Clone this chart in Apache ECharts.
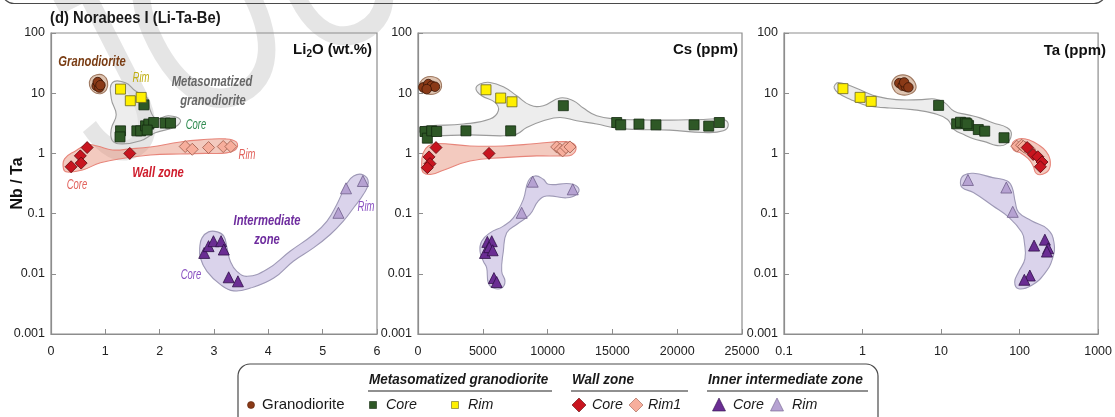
<!DOCTYPE html>
<html>
<head>
<meta charset="utf-8">
<script src="https://cdn.jsdelivr.net/npm/echarts@6/dist/echarts.min.js"></script>
<style>
  html, body { margin: 0; padding: 0; background: #fff; }
  #chart { width: 1115px; height: 417px; }
</style>
</head>
<body>
<div id="chart"></div>
<script>
// ---------- Nb/Ta axis (shared by the three panels) ----------
const nbTaTicks = [0.001, 0.01, 0.1, 1, 10, 100];
const nbTaTickLabels = ['0.001', '0.01', '0.1', '1', '10', '100'];
const taTicks = [0.1, 1, 10, 100, 1000];
const taTickLabels = ['0.1', '1', '10', '100', '1000'];

// ---------- Panel 1: Li2O (wt.%) vs Nb/Ta ----------
const liGranodiorite = [[0.84, 13.2], [0.87, 14.8], [0.89, 12.4], [0.86, 15.3], [0.91, 13.6]];
const liMetaCore = [[1.71, 6.4], [1.28, 2.37], [1.27, 1.88], [1.58, 2.37], [1.65, 2.37], [1.74, 2.87],
  [1.80, 3.07], [1.89, 3.26], [2.10, 3.19], [2.20, 3.19], [1.77, 2.44]];
const liMetaRim = [[1.28, 11.7], [1.46, 7.5], [1.66, 8.5]];
const liWallCore = [[0.37, 0.60], [0.54, 0.91], [0.555, 0.69], [0.665, 1.25], [1.45, 1.0]];
const liWallRim1 = [[2.47, 1.30], [2.60, 1.17], [2.90, 1.25], [3.17, 1.30], [3.31, 1.30]];
const liInterCore = [[2.82, 0.0222], [2.90, 0.0288], [2.99, 0.0348], [3.13, 0.0348], [3.18, 0.0253],
  [3.27, 0.00875], [3.44, 0.0075]];
const liInterRim = [[5.29, 0.103], [5.43, 0.263], [5.74, 0.348]];

// envelopes (outlines in data space)
const liEnvGranodiorite = [[0.73, 17.5], [0.84, 20.3], [0.97, 19.6], [1.04, 15.6], [1.02, 11.4], [0.91, 9.8], [0.78, 10.6], [0.71, 13.3]];
const liEnvMeta = [[1.13, 14.96], [1.37, 14.96], [1.55, 11.0], [1.77, 8.4], [1.83, 5.1], [1.94, 3.76], [2.16, 4.22],
  [2.38, 3.62], [2.29, 2.77], [1.92, 2.2], [1.65, 1.62], [1.31, 1.44], [1.13, 1.62], [1.11, 2.56], [1.20, 4.38], [1.11, 8.1]];
const liEnvWall = [[0.23, 0.552], [0.25, 0.81], [0.45, 1.10], [0.67, 1.39], [0.85, 1.33], [1.13, 1.14], [1.46, 1.19],
  [1.83, 1.28], [2.38, 1.55], [2.75, 1.68], [3.21, 1.74], [3.41, 1.55], [3.41, 1.19], [3.23, 1.02], [2.84, 1.0],
  [2.38, 0.98], [1.83, 0.94], [1.37, 0.84], [0.91, 0.70], [0.58, 0.53], [0.30, 0.49]];
const liEnvInter = [[2.78, 0.0395], [2.90, 0.0497], [3.06, 0.0497], [3.18, 0.0422], [3.24, 0.0269], [3.30, 0.0162],
  [3.42, 0.0110], [3.61, 0.00908], [3.97, 0.01175], [4.40, 0.0237], [4.83, 0.045], [5.08, 0.075], [5.26, 0.142],
  [5.44, 0.307], [5.57, 0.422], [5.75, 0.438], [5.84, 0.326], [5.75, 0.209], [5.57, 0.125], [5.38, 0.075],
  [5.14, 0.045], [4.83, 0.0269], [4.46, 0.0162], [4.10, 0.0085], [3.67, 0.0058], [3.36, 0.0052], [3.12, 0.0066],
  [2.87, 0.0110], [2.75, 0.0183], [2.74, 0.0287]];

// ---------- Panel 2: Cs (ppm) vs Nb/Ta ----------
const csGranodiorite = [[410, 12.5], [795, 14.2], [1055, 13.3], [1310, 12.8], [670, 11.7]];
const csMetaCore = [[11214, 6.2], [540, 2.31], [720, 1.79], [1055, 2.37], [1440, 2.31], [3700, 2.37], [7150, 2.37],
  [15330, 3.26], [15640, 2.98], [17050, 3.07], [18360, 2.98], [21300, 2.98], [22430, 2.84], [23250, 3.26]];
const csMetaRim = [[5247, 11.4], [6380, 8.3], [7253, 7.2]];
const csWallCore = [[1390, 1.25], [850, 0.875], [925, 0.676], [720, 0.58], [5480, 1.0]];
const csWallRim1 = [[10700, 1.28], [10960, 1.17], [11160, 1.10], [11420, 1.25], [11730, 1.28]];
const csInterCore = [[5170, 0.0222], [5350, 0.0339], [5690, 0.0348], [5500, 0.0277], [5760, 0.0246], [5860, 0.0085], [6070, 0.0073]];
const csInterRim = [[8850, 0.339], [11940, 0.253], [8000, 0.103]];

const csEnvGranodiorite = [[154, 14.96], [540, 18.1], [1157, 18.8], [1698, 16.2], [1775, 11.9], [1312, 9.8], [617, 9.8], [154, 11.4]];
const csEnvMeta = [[154, 2.69], [926, 2.87], [3497, 3.07], [5556, 3.72], [6200, 5.11], [5941, 7.03], [4913, 9.09],
  [4475, 11.7], [4784, 14.2], [5556, 15.1], [6585, 12.8], [7613, 9.09], [8642, 6.36], [9671, 6.19], [10957, 8.32],
  [11985, 7.5], [12757, 5.67], [13786, 4.22], [15329, 3.72], [16872, 3.62], [19444, 3.57], [22016, 3.66],
  [23560, 3.66], [23940, 2.98], [23560, 2.37], [22016, 2.22], [19444, 2.44], [16872, 2.49], [15329, 2.63],
  [13786, 3.07], [12243, 3.48], [10957, 3.95], [9671, 3.48], [8385, 2.69], [7613, 2.09], [6585, 1.96],
  [4012, 2.03], [1440, 1.96], [411, 1.96], [154, 2.22]];
const csEnvWall = [[411, 1.03], [797, 1.33], [1440, 1.46], [4012, 1.33], [6585, 1.33], [9156, 1.46], [11214, 1.57],
  [11985, 1.46], [12191, 1.17], [11857, 0.944], [11214, 0.908], [9156, 0.908], [6585, 0.851], [4012, 0.75],
  [1955, 0.525], [1055, 0.45], [411, 0.479], [283, 0.66]];
const csEnvInter = [[4913, 0.0348], [5556, 0.0479], [6585, 0.0619], [7356, 0.0851], [8128, 0.172], [8513, 0.348],
  [9028, 0.422], [9671, 0.372], [10057, 0.307], [11728, 0.314], [12371, 0.269], [12243, 0.209], [11471, 0.183],
  [9928, 0.196], [9285, 0.162], [8642, 0.097], [7613, 0.066], [6842, 0.0479], [6585, 0.0237], [6456, 0.011],
  [6713, 0.0075], [6456, 0.0058], [5813, 0.0058], [5427, 0.00703], [5299, 0.0125], [5041, 0.0162], [4784, 0.0237]];

// ---------- Panel 3: Ta (ppm) vs Nb/Ta ----------
const taGranodiorite = [[2.94, 14.7], [3.24, 13.3], [3.56, 12.9], [3.39, 15.1], [3.84, 12.5]];
const taMetaCore = [[9.31, 6.28], [15.8, 3.10], [17.7, 3.29], [20.4, 3.22], [22.4, 2.9], [21.4, 3.1], [29.8, 2.49], [36.0, 2.34], [63.4, 1.82]];
const taMetaRim = [[0.563, 11.9], [0.931, 8.53], [1.29, 7.32]];
const taWallCore = [[125, 1.25], [149, 0.96], [171, 0.88], [193, 0.72], [184, 0.60]];
const taWallRim1 = [[92, 1.32], [106, 1.37], [118, 1.25], [134, 1.17], [112, 1.30]];
const taInterCore = [[153, 0.0294], [210, 0.0369], [231, 0.0266], [223, 0.0234], [135, 0.00937], [115, 0.00795]];
const taInterRim = [[22.0, 0.362], [67.8, 0.271], [81.8, 0.107]];

const taEnvGranodiorite = [[2.39, 15.5], [2.83, 19.5], [3.76, 19.5], [4.59, 15.5], [4.72, 11.4], [3.76, 9.44], [2.83, 9.8], [2.46, 11.9]];
const taEnvMeta = [[0.446, 13.8], [0.489, 15.1], [0.648, 13.8], [1.04, 10.7], [1.52, 8.85], [2.68, 7.81], [5.70, 7.81],
  [8.32, 8.02], [11.0, 7.05], [14.7, 5.0], [21.4, 4.41], [31.3, 3.89], [45.5, 3.22], [69.7, 2.66], [78.7, 2.06],
  [66.4, 1.41], [50.0, 1.36], [37.7, 1.54], [25.8, 1.75], [19.5, 2.06], [14.7, 2.49], [12.1, 3.65], [8.32, 4.58],
  [4.30, 5.34], [2.21, 5.69], [1.52, 5.91], [1.04, 6.45], [0.713, 7.81], [0.489, 10.1], [0.436, 12.2]];
const taEnvWall = [[80.4, 1.41], [88.3, 1.66], [106.7, 1.77], [135, 1.66], [171, 1.41], [216, 1.09], [244, 0.796],
  [238, 0.544], [197, 0.45], [163, 0.467], [149, 0.617], [129, 0.817], [101.6, 1.03], [84.1, 1.13]];
const taEnvInter = [[17.7, 0.348], [19.5, 0.433], [25.8, 0.467], [45.5, 0.396], [69.7, 0.348], [80.4, 0.271],
  [88.3, 0.153], [97.1, 0.105], [141.6, 0.076], [227, 0.0554], [274, 0.0334], [262, 0.0177], [207, 0.01],
  [141.6, 0.0064], [97.1, 0.00565], [86.7, 0.0073], [97.1, 0.0107], [117, 0.0177], [115, 0.0334], [106.7, 0.0489],
  [73.1, 0.0865], [45.5, 0.135], [25.8, 0.224], [18.6, 0.271]];

// ---------- styles ----------
const SANS = "'Liberation Sans',Arial,sans-serif";
const AXIS_GREY = '#8d8d8d';

const MARK = {
  granodiorite: { symbol: 'circle', size: 9.5, color: '#8a3a17', border: '#3a1505' },
  metaCore: { symbol: 'rect', size: 10, color: '#2e5826', border: '#132a0f' },
  metaRim: { symbol: 'rect', size: 10, color: '#fff000', border: '#6a6420' },
  wallCore: { symbol: 'diamond', size: 12, color: '#c8151f', border: '#5a080c' },
  wallRim1: { symbol: 'diamond', size: 12, color: '#f7ae9c', border: '#9c5a4a' },
  interCore: { symbol: 'triangle', size: 11, color: '#6a2d93', border: '#2e1048' },
  interRim: { symbol: 'triangle', size: 11, color: '#b6a2d2', border: '#6e5e8a' }
};

const ENV = {
  granodiorite: { fill: 'rgba(205,165,135,0.65)', stroke: '#a07a62' },
  meta: { fill: 'rgba(222,222,222,0.55)', stroke: '#9b9b9b' },
  wall: { fill: 'rgba(232,150,128,0.5)', stroke: '#e7857a' },
  inter: { fill: 'rgba(198,188,225,0.65)', stroke: '#9e99b6' }
};

function envelope(idx, pts, kind) {
  const st = ENV[kind];
  return {
    type: 'custom', xAxisIndex: idx, yAxisIndex: idx, z: 1, silent: true,
    data: [pts[0]],
    renderItem: function (params, api) {
      const p = pts.map(function (v) { return api.coord(v); });
      return {
        type: 'polygon',
        shape: { points: p, smooth: 0.45 },
        style: { fill: st.fill, stroke: st.stroke, lineWidth: 1.1 }
      };
    }
  };
}

function points(idx, data, kind) {
  const m = MARK[kind];
  return {
    type: 'scatter', xAxisIndex: idx, yAxisIndex: idx, z: 3, silent: true,
    symbol: m.symbol, symbolSize: m.size, data: data,
    itemStyle: { color: m.color, borderColor: m.border, borderWidth: 0.8, opacity: 1 }
  };
}

function tickLabel(ticks, labels) {
  return function (v) {
    let best = 0;
    for (let i = 1; i < ticks.length; i++) {
      if (Math.abs(Math.log10(ticks[i]) - Math.log10(v)) < Math.abs(Math.log10(ticks[best]) - Math.log10(v))) best = i;
    }
    return labels[best];
  };
}

const axisCommon = {
  axisLine: { show: true, onZero: false, lineStyle: { color: AXIS_GREY, width: 1.2 } },
  axisTick: { show: true, inside: true, length: 5, lineStyle: { color: AXIS_GREY, width: 1 } },
  splitLine: { show: false },
  minorTick: { show: false }
};

const gridBox = { show: true, borderColor: AXIS_GREY, borderWidth: 1.2, top: 33, height: 301 };

function yAxis(idx, withName) {
  return Object.assign({
    type: 'log', logBase: 10, gridIndex: idx, min: 0.001, max: 100, splitNumber: 5,
    axisLabel: { margin: 6, color: '#222', fontFamily: SANS, fontSize: 12.5, formatter: tickLabel(nbTaTicks, nbTaTickLabels) },
    name: withName ? 'Nb / Ta' : '', nameLocation: 'middle', nameGap: 25, nameRotate: 90, nameMoveOverlap: false,
    nameTextStyle: { fontFamily: SANS, fontWeight: 'bold', fontSize: 16, color: '#111' }
  }, axisCommon);
}

// condensed lettering: a sans face squeezed horizontally around its anchor
function label(x, y, text, color, o) {
  o = o || {};
  return {
    type: 'text', x: x, y: y, z: 20, silent: true, scaleX: o.squeeze || 0.75, scaleY: 1,
    style: {
      text: text, fill: color, align: o.align || 'center', verticalAlign: 'middle',
      font: (o.italic === false ? '' : 'italic ') + (o.weight || 'normal') + ' ' + (o.size || 15) + 'px ' + SANS
    }
  };
}
function note(x, y, text, color) {
  return label(x, y, text, color, { size: 14, squeeze: 0.68 });
}

const option = {
  animation: false,
  backgroundColor: '#fff',
  grid: [
    Object.assign({ left: 51, width: 326 }, gridBox),
    Object.assign({ left: 418, width: 324 }, gridBox),
    Object.assign({ left: 784, width: 325 }, gridBox)
  ],
  xAxis: [
    Object.assign({ type: 'value', gridIndex: 0, min: 0, max: 6, interval: 1,
      axisLabel: { margin: 11, color: '#222', fontFamily: SANS, fontSize: 12.5 } }, axisCommon),
    Object.assign({ type: 'value', gridIndex: 1, min: 0, max: 25000, interval: 5000,
      axisLabel: { margin: 11, color: '#222', fontFamily: SANS, fontSize: 12.5, formatter: function (v) { return String(v); } } }, axisCommon),
    Object.assign({ type: 'log', logBase: 10, gridIndex: 2, min: 0.1, max: 1000, splitNumber: 4,
      axisLabel: { margin: 11, color: '#222', fontFamily: SANS, fontSize: 12.5, formatter: tickLabel(taTicks, taTickLabels) } }, axisCommon)
  ],
  yAxis: [yAxis(0, true), yAxis(1, false), yAxis(2, false)],
  series: [
    envelope(0, liEnvMeta, 'meta'), envelope(0, liEnvWall, 'wall'), envelope(0, liEnvInter, 'inter'), envelope(0, liEnvGranodiorite, 'granodiorite'),
    points(0, liMetaCore, 'metaCore'), points(0, liMetaRim, 'metaRim'), points(0, liWallCore, 'wallCore'),
    points(0, liWallRim1, 'wallRim1'), points(0, liInterCore, 'interCore'), points(0, liInterRim, 'interRim'),
    points(0, liGranodiorite, 'granodiorite'),

    envelope(1, csEnvMeta, 'meta'), envelope(1, csEnvWall, 'wall'), envelope(1, csEnvInter, 'inter'), envelope(1, csEnvGranodiorite, 'granodiorite'),
    points(1, csMetaCore, 'metaCore'), points(1, csMetaRim, 'metaRim'), points(1, csWallCore, 'wallCore'),
    points(1, csWallRim1, 'wallRim1'), points(1, csInterCore, 'interCore'), points(1, csInterRim, 'interRim'),
    points(1, csGranodiorite, 'granodiorite'),

    envelope(2, taEnvMeta, 'meta'), envelope(2, taEnvWall, 'wall'), envelope(2, taEnvInter, 'inter'), envelope(2, taEnvGranodiorite, 'granodiorite'),
    points(2, taMetaCore, 'metaCore'), points(2, taMetaRim, 'metaRim'), points(2, taWallRim1, 'wallRim1'),
    points(2, taWallCore, 'wallCore'), points(2, taInterCore, 'interCore'), points(2, taInterRim, 'interRim'),
    points(2, taGranodiorite, 'granodiorite')
  ],
  graphic: [
    // faint diagonal stamp behind the plots: rotate a group, squeeze the lettering inside it
    { type: 'group', x: 68, y: 109, rotation: 27 * Math.PI / 180, z: -5, silent: true,
      children: [{ type: 'text', x: 0, y: 0, scaleX: 0.7, scaleY: 1, z: -5, silent: true,
        style: { text: 'JOURNAL PRE-PROOF', fill: 'rgba(0,0,0,0.10)', align: 'left', verticalAlign: 'middle',
          font: 'normal 260px ' + SANS } }] },
    // frame of the panel above
    { type: 'rect', z: 10, silent: true, shape: { x: 2, y: -40, width: 1104, height: 43.5, r: 12 },
      style: { fill: 'none', stroke: '#4a4a4a', lineWidth: 1.2 } },
    label(50, 18, '(d) Norabees I (Li-Ta-Be)', '#1a1a1a', { weight: 'bold', size: 17, italic: false, align: 'left', squeeze: 0.87 }),

    // axis titles inside the panels
    { type: 'text', x: 372, y: 50, z: 20, silent: true,
      style: { text: '{a|Li}{s|2}{a|O (wt.%)}', align: 'right', verticalAlign: 'middle',
        rich: { a: { font: 'bold 15px ' + SANS, fill: '#111' }, s: { font: 'bold 10px ' + SANS, fill: '#111', padding: [8, 0, 0, 0] } } } },
    { type: 'text', x: 738, y: 50, z: 20, silent: true,
      style: { text: 'Cs (ppm)', fill: '#111', align: 'right', verticalAlign: 'middle', font: 'bold 15px ' + SANS } },
    { type: 'text', x: 1106, y: 51, z: 20, silent: true,
      style: { text: 'Ta (ppm)', fill: '#111', align: 'right', verticalAlign: 'middle', font: 'bold 15px ' + SANS } },

    // group annotations (Li2O panel)
    label(92, 62, 'Granodiorite', '#7a3d14', { weight: 'bold' }),
    note(141, 78, 'Rim', '#bfae12'),
    label(212, 82, 'Metasomatized', '#666666', { weight: 'bold' }),
    label(213, 101, 'granodiorite', '#666666', { weight: 'bold' }),
    note(196, 125, 'Core', '#2f8b50'),
    note(247, 155, 'Rim', '#e2625c'),
    label(158, 173, 'Wall zone', '#cf1b2b', { weight: 'bold' }),
    note(77, 185, 'Core', '#e2625c'),
    label(267, 221, 'Intermediate', '#6e2c9e', { weight: 'bold' }),
    label(267, 240, 'zone', '#6e2c9e', { weight: 'bold' }),
    note(191, 275, 'Core', '#8a52c2'),
    note(366, 207, 'Rim', '#8a52c2'),

    // legend box
    { type: 'rect', z: 10, silent: true, shape: { x: 238, y: 364, width: 640, height: 80, r: 12 },
      style: { fill: '#fff', stroke: '#4a4a4a', lineWidth: 1.2 } },
    label(369, 380, 'Metasomatized granodiorite', '#1a1a1a', { weight: 'bold', size: 15, align: 'left', squeeze: 0.9 }),
    { type: 'line', z: 20, silent: true, shape: { x1: 368, y1: 391, x2: 552, y2: 391 }, style: { stroke: '#222', lineWidth: 1.2 } },
    label(572, 380, 'Wall zone', '#1a1a1a', { weight: 'bold', size: 15, align: 'left', squeeze: 0.9 }),
    { type: 'line', z: 20, silent: true, shape: { x1: 571, y1: 391, x2: 688, y2: 391 }, style: { stroke: '#222', lineWidth: 1.2 } },
    label(708, 380, 'Inner intermediate zone', '#1a1a1a', { weight: 'bold', size: 15, align: 'left', squeeze: 0.92 }),
    { type: 'line', z: 20, silent: true, shape: { x1: 707, y1: 391, x2: 868, y2: 391 }, style: { stroke: '#222', lineWidth: 1.2 } },

    { type: 'circle', z: 20, silent: true, shape: { cx: 251, cy: 405, r: 3.5 }, style: { fill: '#8a3a17', stroke: '#5a2008', lineWidth: 0.6 } },
    label(262, 405, 'Granodiorite', '#1a1a1a', { size: 15, align: 'left', italic: false, squeeze: 1 }),
    { type: 'rect', z: 20, silent: true, shape: { x: 369.5, y: 401.5, width: 7, height: 7 }, style: { fill: '#2e5826', stroke: '#132a0f', lineWidth: 0.6 } },
    label(386, 405, 'Core', '#1a1a1a', { size: 15, align: 'left', squeeze: 0.95 }),
    { type: 'rect', z: 20, silent: true, shape: { x: 451.5, y: 401.5, width: 7, height: 7 }, style: { fill: '#fff000', stroke: '#6a6420', lineWidth: 0.6 } },
    label(468, 405, 'Rim', '#1a1a1a', { size: 15, align: 'left', squeeze: 0.95 }),
    { type: 'polygon', z: 20, silent: true, shape: { points: [[579, 398], [586, 405], [579, 412], [572, 405]] }, style: { fill: '#c8151f', stroke: '#5a080c', lineWidth: 0.6 } },
    label(592, 405, 'Core', '#1a1a1a', { size: 15, align: 'left', squeeze: 0.95 }),
    { type: 'polygon', z: 20, silent: true, shape: { points: [[636, 398], [643, 405], [636, 412], [629, 405]] }, style: { fill: '#f7ae9c', stroke: '#9c5a4a', lineWidth: 0.6 } },
    label(648, 405, 'Rim1', '#1a1a1a', { size: 15, align: 'left', squeeze: 0.95 }),
    { type: 'polygon', z: 20, silent: true, shape: { points: [[719, 398], [725.5, 411], [712.5, 411]] }, style: { fill: '#6a2d93', stroke: '#2e1048', lineWidth: 0.6 } },
    label(733, 405, 'Core', '#1a1a1a', { size: 15, align: 'left', squeeze: 0.95 }),
    { type: 'polygon', z: 20, silent: true, shape: { points: [[777, 398], [783.5, 411], [770.5, 411]] }, style: { fill: '#b6a2d2', stroke: '#6e5e8a', lineWidth: 0.6 } },
    label(792, 405, 'Rim', '#1a1a1a', { size: 15, align: 'left', squeeze: 0.95 })
  ]
};

const chart = echarts.init(document.getElementById('chart'), null, { renderer: 'canvas' });
chart.setOption(option);
</script>
</body>
</html>
